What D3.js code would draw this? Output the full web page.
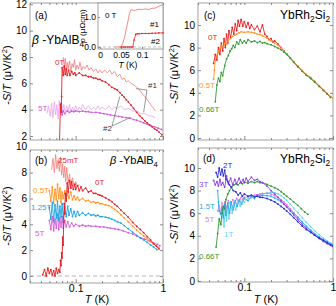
<!DOCTYPE html>
<html>
<head>
<meta charset="utf-8">
<script src="https://cdn.jsdelivr.net/npm/d3@7"></script>
<style>
body { margin: 0; background: #fff; }
svg { font-family: "Liberation Sans", Arial, sans-serif; }
</style>
</head>
<body>
<svg id="chart" width="336" height="306"></svg>
<script>
// ---- data: [T (K), -S/T (uV/K^2)] ----
// (a) beta-YbAlB4, two samples
var a0T_1 = [[0.072,8.0],[0.074,7.2],[0.076,7.9],[0.078,7.0],[0.080,7.6],[0.082,7.1],[0.085,7.7],[0.088,6.9],[0.091,7.5],[0.094,7.2],[0.097,7.8],[0.10,7.0],[0.104,7.4],[0.108,7.1],[0.112,7.6],[0.117,7.0],[0.122,7.3],[0.128,7.1],[0.135,7.4],[0.142,7.0],[0.15,7.2],[0.16,6.9],[0.17,7.1],[0.18,6.8],[0.19,7.0],[0.20,6.8],[0.215,7.0],[0.23,6.8],[0.245,7.0],[0.26,6.7],[0.28,6.9],[0.30,6.5],[0.32,6.7],[0.34,6.3],[0.36,6.4],[0.38,6.1],[0.40,6.2],[0.43,6.0],[0.46,5.9],[0.50,5.7],[0.54,5.5],[0.58,5.2],[0.62,5.0],[0.67,4.7],[0.72,4.4],[0.78,4.1],[0.82,3.9]];
var a0T_2 = [[0.062,0.5],[0.065,1.0],[0.067,4.4],[0.068,3.8],[0.069,5.0],[0.070,7.2],[0.072,6.6],[0.074,7.3],[0.076,6.7],[0.078,7.1],[0.080,6.6],[0.083,7.0],[0.086,6.6],[0.090,6.9],[0.094,6.7],[0.098,6.8],[0.10,6.6],[0.11,6.8],[0.12,6.6],[0.13,6.6],[0.14,6.5],[0.15,6.5],[0.16,6.4],[0.17,6.4],[0.18,6.3],[0.19,6.3],[0.20,6.2],[0.22,6.1],[0.24,5.9],[0.26,5.7],[0.28,5.6],[0.30,5.5],[0.32,5.3],[0.34,5.1],[0.36,4.95],[0.38,4.75],[0.40,4.6],[0.43,4.35],[0.46,4.1],[0.50,3.8],[0.54,3.55],[0.58,3.35],[0.62,3.15],[0.66,3.0],[0.70,2.85],[0.75,2.7],[0.80,2.55],[0.85,2.45],[0.90,2.3],[0.97,2.1]];
var a5T_1 = [[0.047,3.7],[0.049,4.3],[0.051,3.5],[0.053,4.5],[0.055,3.4],[0.057,4.6],[0.059,3.6],[0.061,4.4],[0.063,3.3],[0.065,4.7],[0.067,3.6],[0.069,4.5],[0.071,3.7],[0.073,4.4],[0.076,3.8],[0.079,4.3],[0.082,3.9],[0.085,4.4],[0.088,3.8],[0.092,4.2],[0.096,3.9],[0.10,4.3],[0.105,3.9],[0.11,4.2],[0.115,4.0],[0.12,4.4],[0.13,4.0],[0.14,4.3],[0.15,4.0],[0.16,4.2],[0.17,4.0],[0.18,4.3],[0.19,4.0],[0.20,4.2],[0.22,4.0],[0.24,4.3],[0.26,4.0],[0.28,4.2],[0.30,4.1],[0.33,4.3],[0.36,4.0],[0.40,4.1],[0.45,3.9],[0.50,3.9],[0.56,3.7],[0.62,3.7],[0.68,3.55],[0.75,3.5],[0.81,3.4]];
var a5T_2 = [[0.068,4.5],[0.070,3.6],[0.072,3.9],[0.075,3.7],[0.080,3.9],[0.085,3.8],[0.090,3.9],[0.095,3.85],[0.10,3.9],[0.11,3.85],[0.12,3.9],[0.13,3.85],[0.14,3.85],[0.15,3.8],[0.17,3.8],[0.19,3.75],[0.21,3.7],[0.23,3.65],[0.25,3.6],[0.28,3.55],[0.31,3.5],[0.34,3.45],[0.38,3.4],[0.42,3.35],[0.46,3.25],[0.50,3.2],[0.55,3.1],[0.60,3.0],[0.66,2.9],[0.72,2.8],[0.80,2.7],[0.88,2.6],[0.96,2.5]];
// (a) inset: resistivity [T (K), rho (uOhm cm)]
var rho_1 = [[0.035,0],[0.042,0],[0.050,0],[0.054,0.12],[0.058,0.3],[0.062,0.57],[0.066,0.83],[0.070,1.12],[0.074,1.25],[0.080,1.22],[0.085,1.23],[0.093,1.26],[0.101,1.25],[0.108,1.27],[0.116,1.25],[0.124,1.29],[0.132,1.3],[0.138,1.34],[0.143,1.38],[0.150,1.4]];
var rho_2 = [[0.050,0],[0.055,0],[0.060,0],[0.065,0],[0.070,0],[0.075,0],[0.078,0],[0.081,0.23],[0.085,0.42],[0.089,0.44],[0.093,0.44],[0.10,0.45],[0.108,0.45],[0.116,0.45],[0.124,0.46],[0.132,0.46],[0.14,0.47],[0.15,0.47]];
// (b) beta-YbAlB4
var b25mT = [[0.053,8.2],[0.055,9.1],[0.057,8.0],[0.059,9.4],[0.061,8.3],[0.063,9.0],[0.065,8.1],[0.067,9.2],[0.069,7.8],[0.071,8.7],[0.073,7.6],[0.075,8.5],[0.077,7.3],[0.079,8.4],[0.082,7.2],[0.085,7.9],[0.088,7.0],[0.092,7.6],[0.096,6.9],[0.10,7.3],[0.105,6.9],[0.11,7.1]];
var b0T = [[0.042,0.1],[0.044,0.5],[0.046,0.0],[0.048,0.6],[0.050,0.2],[0.052,0.5],[0.054,0.1],[0.056,0.4],[0.058,0.0],[0.060,0.6],[0.062,0.2],[0.064,0.5],[0.066,0.3],[0.067,1.2],[0.068,0.8],[0.069,1.8],[0.070,1.4],[0.071,3.0],[0.072,2.4],[0.073,4.2],[0.074,5.6],[0.075,4.8],[0.076,6.4],[0.078,5.8],[0.080,7.2],[0.082,6.5],[0.085,7.4],[0.088,6.8],[0.090,7.3],[0.094,6.7],[0.098,7.1],[0.10,6.7],[0.105,7.0],[0.11,6.6],[0.115,6.9],[0.12,6.6],[0.13,6.8],[0.14,6.5],[0.15,6.6],[0.16,6.4],[0.17,6.4],[0.18,6.3],[0.19,6.25],[0.20,6.2],[0.22,6.05],[0.24,5.9],[0.26,5.75],[0.28,5.55],[0.30,5.4],[0.33,5.1],[0.36,4.85],[0.40,4.55],[0.45,4.15],[0.50,3.85],[0.55,3.6],[0.60,3.35],[0.66,3.05],[0.72,2.8],[0.78,2.5],[0.84,2.3],[0.90,2.1]];
var b05T = [[0.050,6.6],[0.052,5.8],[0.054,6.9],[0.056,5.6],[0.058,6.7],[0.060,5.9],[0.062,7.1],[0.064,6.0],[0.066,6.8],[0.068,5.7],[0.070,6.5],[0.072,6.0],[0.075,6.6],[0.078,5.9],[0.081,6.4],[0.084,6.0],[0.088,6.5],[0.092,5.9],[0.096,6.2],[0.10,5.9],[0.105,6.1],[0.11,5.85],[0.12,6.0],[0.13,5.8],[0.14,5.85],[0.15,5.7],[0.16,5.75],[0.17,5.65],[0.18,5.7],[0.19,5.6],[0.20,5.6],[0.22,5.5],[0.24,5.45],[0.26,5.3],[0.28,5.15],[0.30,5.0],[0.33,4.75],[0.36,4.5],[0.40,4.2],[0.45,3.85],[0.50,3.55],[0.55,3.3],[0.60,3.1],[0.66,2.9],[0.72,2.65],[0.78,2.5],[0.84,2.35],[0.90,2.2]];
var b125T = [[0.050,5.3],[0.052,4.4],[0.054,5.7],[0.056,4.2],[0.058,5.5],[0.060,4.5],[0.062,5.8],[0.064,4.3],[0.066,5.4],[0.068,4.6],[0.070,5.6],[0.072,4.4],[0.075,5.3],[0.078,4.6],[0.081,5.4],[0.084,4.7],[0.088,5.2],[0.092,4.6],[0.096,5.0],[0.10,4.6],[0.105,5.0],[0.11,4.7],[0.12,4.9],[0.13,4.7],[0.14,4.85],[0.15,4.7],[0.16,4.75],[0.17,4.65],[0.18,4.7],[0.19,4.6],[0.20,4.6],[0.22,4.55],[0.24,4.5],[0.26,4.4],[0.28,4.3],[0.30,4.2],[0.33,4.1],[0.36,3.9],[0.40,3.65],[0.45,3.4],[0.50,3.15],[0.55,2.95],[0.60,2.8],[0.66,2.6],[0.72,2.4],[0.78,2.25],[0.85,2.05]];
var b5T = [[0.050,4.3],[0.052,3.6],[0.054,4.6],[0.056,3.5],[0.058,4.4],[0.060,3.7],[0.062,4.8],[0.064,3.6],[0.066,4.5],[0.068,3.8],[0.070,4.6],[0.072,3.7],[0.075,4.3],[0.078,3.8],[0.081,4.2],[0.085,3.8],[0.090,4.1],[0.095,3.85],[0.10,4.0],[0.11,3.85],[0.12,3.95],[0.13,3.85],[0.14,3.9],[0.15,3.85],[0.17,3.85],[0.19,3.8],[0.21,3.8],[0.23,3.75],[0.25,3.7],[0.28,3.65],[0.31,3.6],[0.35,3.5],[0.40,3.35],[0.45,3.25],[0.50,3.1],[0.56,2.95],[0.62,2.85],[0.70,2.7],[0.78,2.55],[0.86,2.45],[0.92,2.35]];
// (c) YbRh2Si2
var c0T = [[0.045,6.6],[0.047,7.4],[0.049,6.9],[0.051,8.0],[0.053,7.4],[0.055,8.4],[0.057,7.7],[0.059,8.8],[0.061,8.0],[0.063,9.2],[0.065,8.4],[0.067,9.5],[0.070,8.9],[0.073,9.8],[0.076,9.2],[0.079,10.1],[0.082,9.5],[0.085,10.4],[0.088,9.9],[0.092,10.5],[0.096,9.9],[0.10,10.3],[0.105,9.8],[0.11,10.2],[0.115,9.7],[0.12,10.0],[0.13,9.6],[0.14,9.9],[0.15,9.4],[0.16,10.0],[0.17,9.2],[0.18,9.0],[0.19,8.7],[0.20,8.8],[0.21,8.5],[0.22,8.6],[0.24,8.3],[0.26,8.0],[0.28,7.7],[0.30,7.45],[0.33,7.1],[0.36,6.75],[0.40,6.35],[0.45,5.95],[0.50,5.6],[0.56,5.35],[0.62,5.0],[0.70,4.6],[0.78,4.25],[0.86,3.9],[0.94,3.6]];
var c05T = [[0.045,5.2],[0.046,6.0],[0.047,6.9],[0.049,7.3],[0.051,7.6],[0.053,7.9],[0.055,8.2],[0.058,8.0],[0.060,8.4],[0.063,8.3],[0.066,8.7],[0.070,8.8],[0.074,9.0],[0.078,9.1],[0.082,9.2],[0.087,9.3],[0.092,9.4],[0.10,9.35],[0.11,9.4],[0.12,9.35],[0.13,9.3],[0.14,9.2],[0.15,9.15],[0.16,9.05],[0.18,8.85],[0.20,8.6],[0.22,8.4],[0.24,8.2],[0.26,7.95],[0.28,7.7],[0.30,7.45],[0.33,7.1],[0.36,6.75],[0.40,6.35],[0.45,5.95],[0.50,5.6],[0.56,5.3],[0.62,5.0],[0.70,4.6],[0.78,4.25],[0.86,3.95],[0.94,3.65],[1.0,3.5]];
var c066T = [[0.047,3.2],[0.049,4.7],[0.051,5.3],[0.053,5.0],[0.055,5.8],[0.057,5.5],[0.060,6.4],[0.063,7.0],[0.066,7.3],[0.069,7.7],[0.072,7.9],[0.075,8.2],[0.078,8.0],[0.082,8.5],[0.086,8.3],[0.090,8.7],[0.095,8.4],[0.10,8.6],[0.105,8.4],[0.11,8.7],[0.12,8.5],[0.13,8.6],[0.14,8.45],[0.15,8.55],[0.16,8.4],[0.17,8.45],[0.18,8.35],[0.20,8.25],[0.22,8.1],[0.24,7.95],[0.26,7.8],[0.28,7.6],[0.30,7.4],[0.33,7.05],[0.36,6.7],[0.40,6.3],[0.45,5.9],[0.50,5.55],[0.56,5.25],[0.62,4.95],[0.70,4.55],[0.78,4.2],[0.86,3.9],[0.94,3.6]];
// (d) YbRh2Si2
var d066T = [[0.048,3.0],[0.050,4.2],[0.052,5.5],[0.054,5.0],[0.056,6.0],[0.058,6.6],[0.060,6.4],[0.062,7.2],[0.065,7.7],[0.068,8.0],[0.072,8.3],[0.076,8.5],[0.080,8.6],[0.085,8.5],[0.090,8.7],[0.095,8.6],[0.10,8.75],[0.11,8.65],[0.12,8.8],[0.13,8.7],[0.14,8.8],[0.15,8.7],[0.16,8.7],[0.18,8.55],[0.20,8.4],[0.22,8.25],[0.24,8.1],[0.26,7.9],[0.28,7.7],[0.30,7.5],[0.33,7.25],[0.36,7.0],[0.40,6.7],[0.44,6.4],[0.48,6.1],[0.52,5.9]];
var d1T = [[0.055,5.0],[0.057,6.3],[0.059,4.8],[0.061,6.6],[0.063,5.3],[0.065,6.8],[0.067,5.5],[0.070,7.0],[0.073,6.0],[0.076,6.9],[0.080,6.3],[0.085,7.1],[0.090,6.6],[0.095,7.2],[0.10,7.0],[0.11,7.3],[0.12,7.35],[0.13,7.5],[0.14,7.55],[0.15,7.6],[0.16,7.7],[0.18,7.8],[0.20,7.85],[0.22,7.8],[0.24,7.7],[0.26,7.55],[0.28,7.35],[0.30,7.15],[0.33,6.8],[0.36,6.45],[0.40,6.05],[0.45,5.6],[0.50,5.2],[0.56,4.8],[0.62,4.45],[0.70,4.1],[0.78,3.8],[0.86,3.55],[0.94,3.35],[1.0,3.25]];
var d15T = [[0.050,8.0],[0.051,7.0],[0.052,6.2],[0.054,5.9],[0.056,6.5],[0.058,5.6],[0.060,6.8],[0.062,5.8],[0.065,6.9],[0.068,6.0],[0.071,7.0],[0.075,6.3],[0.079,7.1],[0.083,6.6],[0.088,7.2],[0.093,6.8],[0.10,7.3],[0.11,7.1],[0.12,7.5],[0.13,7.3],[0.14,7.6],[0.15,7.5],[0.16,7.6],[0.18,7.55],[0.20,7.5],[0.22,7.35],[0.24,7.2],[0.26,7.0],[0.28,6.8],[0.30,6.6],[0.33,6.3],[0.36,6.0],[0.40,5.65],[0.45,5.2],[0.50,4.85],[0.56,4.5],[0.62,4.2],[0.70,3.9],[0.78,3.65],[0.86,3.45],[0.94,3.3],[1.0,3.2]];
var d2T = [[0.048,9.6],[0.050,9.2],[0.052,10.0],[0.054,9.4],[0.056,9.9],[0.058,9.3],[0.060,9.8],[0.062,9.0],[0.065,8.8],[0.068,8.5],[0.071,8.3],[0.075,8.0],[0.080,7.9],[0.085,7.6],[0.090,7.8],[0.095,7.5],[0.10,7.7],[0.11,7.5],[0.12,7.6],[0.13,7.45],[0.14,7.5],[0.15,7.4],[0.16,7.4],[0.18,7.3],[0.20,7.15],[0.22,7.0],[0.24,6.8],[0.26,6.6],[0.28,6.4],[0.30,6.2],[0.33,5.9],[0.36,5.6],[0.40,5.25],[0.45,4.85],[0.50,4.55],[0.56,4.3],[0.62,4.05],[0.70,3.8],[0.78,3.6],[0.86,3.4],[0.94,3.2],[1.0,3.1]];
var d3T = [[0.045,8.9],[0.047,8.5],[0.049,8.8],[0.051,8.4],[0.053,9.0],[0.055,8.5],[0.057,8.7],[0.060,8.3],[0.063,9.3],[0.066,8.6],[0.070,9.1],[0.074,8.5],[0.078,9.0],[0.082,8.6],[0.087,9.1],[0.092,8.7],[0.097,9.0],[0.10,8.7],[0.105,9.1],[0.11,8.8],[0.12,9.2],[0.13,8.9],[0.14,9.0],[0.15,8.8],[0.16,8.7],[0.18,8.4],[0.20,8.0],[0.22,7.7],[0.24,7.4],[0.26,7.1],[0.28,6.8],[0.30,6.55],[0.33,6.2],[0.36,5.85],[0.40,5.45],[0.45,5.0],[0.50,4.65],[0.56,4.35],[0.62,4.05],[0.70,3.75],[0.78,3.5],[0.86,3.3],[0.94,3.15],[1.0,3.05]];
var d5T = [[0.050,6.2],[0.052,6.7],[0.054,6.0],[0.056,6.9],[0.058,6.3],[0.060,7.0],[0.063,6.5],[0.066,7.1],[0.070,6.7],[0.074,7.2],[0.078,6.9],[0.082,7.3],[0.087,7.0],[0.092,7.4],[0.097,7.2],[0.10,7.4],[0.11,7.45],[0.12,7.5],[0.13,7.6],[0.14,7.65],[0.15,7.7],[0.16,7.75],[0.18,7.75],[0.20,7.7],[0.22,7.55],[0.24,7.4],[0.26,7.2],[0.28,7.0],[0.30,6.75],[0.33,6.4],[0.36,6.05],[0.40,5.65],[0.45,5.2],[0.50,4.8],[0.56,4.45],[0.62,4.1],[0.70,3.8],[0.78,3.55],[0.86,3.35],[0.94,3.2],[1.0,3.1]];

// tick labels
var xMajor = [0.1, 1];
var xMinor = [0.03,0.04,0.05,0.06,0.07,0.08,0.09,0.2,0.3,0.4,0.5,0.6,0.7,0.8,0.9];
var yTicksA = [2,4,6,8,10,12];
var yTicksB = [0,2,4,6,8,10];
var insetXTicks = [0, 0.05, 0.1];
var insetYTicks = [0, 1];

var RED = "#e41f26", LIGHTRED = "#f27a7a", ORANGE = "#ff9420", GREEN = "#2f9a33",
	BLUE125 = "#1ea4e0", MAGENTA = "#d25bd8", LIGHTMAG = "#e9a2ec",
	BLUE2 = "#2a2ad2", PURPLE = "#8d3fe0", CYAN15 = "#25ade8", PINK5 = "#e37ce3", CYAN1 = "#66d4ee";
var FRAME = "#8a8a8a";

var svg = d3.select("#chart");

function panel(p) {
	var x = d3.scaleLog().domain([0.03, 1]).range([p.left, p.right]);
	var y = d3.scaleLinear().domain(p.ydom).range([p.bottom, p.top]);
	var g = svg.append("g");
	var cid = "clip-" + p.name;
	svg.append("clipPath").attr("id", cid).append("rect")
		.attr("x", p.left).attr("y", p.top)
		.attr("width", p.right - p.left).attr("height", p.bottom - p.top);

	// left axis with inward ticks
	var ya = g.append("g").attr("transform", "translate(" + p.left + ",0)")
		.call(d3.axisLeft(y).tickValues(p.yticks).tickSize(-3).tickPadding(3));
	ya.select(".domain").remove();
	ya.attr("font-size", 10).attr("font-family", null);
	ya.selectAll("line").attr("stroke", FRAME);
	ya.selectAll(".tick").filter(function(d) { return y(d) < p.top; }).select("line").remove();
	// right mirror
	var yr = g.append("g").attr("transform", "translate(" + p.right + ",0)")
		.call(d3.axisRight(y).tickValues(p.yticks.filter(function(d) { return y(d) >= p.top; })).tickSize(-3).tickFormat(""));
	yr.select(".domain").remove();
	yr.selectAll("line").attr("stroke", FRAME);

	// bottom axis
	var xa = g.append("g").attr("transform", "translate(0," + p.bottom + ")")
		.call(d3.axisBottom(x).tickValues(xMajor).tickSize(-4).tickPadding(2)
			.tickFormat(p.xlabels ? function(d) { return d === 1 ? "1" : "0.1"; } : ""));
	xa.select(".domain").remove();
	xa.attr("font-size", 10.5).attr("font-family", null);
	xa.selectAll("line").attr("stroke", FRAME);
	var xm = g.append("g").attr("transform", "translate(0," + p.bottom + ")")
		.call(d3.axisBottom(x).tickValues(xMinor).tickSize(-2).tickFormat(""));
	xm.select(".domain").remove();
	xm.selectAll("line").attr("stroke", FRAME);
	var xt = g.append("g").attr("transform", "translate(0," + p.top + ")")
		.call(d3.axisTop(x).tickValues(xMinor.concat(xMajor)).tickSize(-2).tickFormat(""));
	xt.select(".domain").remove();
	xt.selectAll("line").attr("stroke", FRAME);

	g.append("rect")
		.attr("x", p.left).attr("y", p.top)
		.attr("width", p.right - p.left).attr("height", p.bottom - p.top)
		.attr("fill", "none").attr("stroke", FRAME).attr("stroke-width", 0.8);

	// y label
	var yl = g.append("text")
		.attr("transform", "translate(" + p.ylabX + "," + p.ylabY + ") rotate(-90)")
		.attr("text-anchor", "middle").attr("font-size", 11);
	yl.append("tspan").text("-");
	yl.append("tspan").attr("font-style", "italic").text("S");
	yl.append("tspan").text("/");
	yl.append("tspan").attr("font-style", "italic").text("T");
	yl.append("tspan").text(" (\u03bcV/K");
	yl.append("tspan").attr("font-size", 7.5).attr("dy", -4).text("2");
	yl.append("tspan").attr("dy", 4).text(")");

	if (p.xlabels) {
		var xl = g.append("text").attr("x", p.xlabX).attr("y", 303)
			.attr("text-anchor", "middle").attr("font-size", 11);
		xl.append("tspan").attr("font-style", "italic").text("T");
		xl.append("tspan").text(" (K)");
	}
	return { x: x, y: y, g: g, clip: "url(#" + cid + ")" };
}

function curve(P, data, color, dots, w) {
	var lineGen = d3.line()
		.x(function(d) { return P.x(d[0]); })
		.y(function(d) { return P.y(d[1]); });
	var cg = P.g.append("g").attr("clip-path", P.clip);
	cg.append("path").attr("d", lineGen(data))
		.attr("fill", "none").attr("stroke", color).attr("stroke-width", w || 0.9)
		.attr("stroke-linejoin", "round");
	if (dots) {
		cg.selectAll("circle").data(data).enter().append("circle")
			.attr("cx", function(d) { return P.x(d[0]); })
			.attr("cy", function(d) { return P.y(d[1]); })
			.attr("r", 0.9).attr("fill", color);
	}
}

function label(P, x, y, txt, color, size) {
	P.g.append("text").attr("x", x).attr("y", y)
		.attr("font-size", size || 8).attr("fill", color).text(txt);
}

function compound(P, x, y, size, parts) {
	// parts: [text, "sub"|"it"|null]
	var t = P.g.append("text").attr("x", x).attr("y", y).attr("font-size", size);
	var down = false;
	parts.forEach(function(pt) {
		var s = t.append("tspan").text(pt[0]);
		if (pt[1] === "it") s.attr("font-style", "italic");
		if (pt[1] === "sub") { s.attr("font-size", size * 0.7).attr("dy", 3); down = true; }
		else if (down) { s.attr("dy", -3); down = false; }
	});
}

var ybalb = [["\u03b2", "it"], [" -YbAlB", null], ["4", "sub"]];
var ybrh = [["YbRh", null], ["2", "sub"], ["Si", null], ["2", "sub"]];

// ---------- (a) ----------
var A = panel({ name: "a", left: 30, right: 163, top: 3, bottom: 140, ydom: [1.7, 12.1],
	yticks: yTicksA, xlabels: false, ylabX: 11, ylabY: 75 });
curve(A, a0T_1, LIGHTRED, false, 0.8);
curve(A, a5T_1, LIGHTMAG, false, 0.8);
curve(A, a5T_2, MAGENTA, true);
curve(A, a0T_2, RED, true);
label(A, 35, 19, "(a)", "#000", 10);
compound(A, 32, 44, 12, ybalb);
label(A, 55, 65, "0T", RED);
label(A, 38, 111, "5T", MAGENTA);
label(A, 148, 88, "#1", "#333");
label(A, 103, 131, "#2", "#333");
var ptrs = [
	[[147, 90], [0.49, 5.6]],
	[[147, 90], [0.6, 3.8]],
	[[112, 126], [0.32, 5.0]],
	[[112, 126], [0.42, 3.4]]
];
ptrs.forEach(function(pp) {
	A.g.append("line").attr("x1", pp[0][0]).attr("y1", pp[0][1])
		.attr("x2", A.x(pp[1][0])).attr("y2", A.y(pp[1][1]))
		.attr("stroke", "#555").attr("stroke-width", 0.6);
});

// inset
var ins = { left: 98, right: 163, top: 3, bottom: 49 };
var ix = d3.scaleLinear().domain([-0.005, 0.15]).range([ins.left, ins.right]);
var iy = d3.scaleLinear().domain([-0.067, 1.467]).range([ins.bottom, ins.top]);
var ig = svg.append("g");
ig.append("rect").attr("x", ins.left).attr("y", ins.top)
	.attr("width", ins.right - ins.left).attr("height", ins.bottom - ins.top)
	.attr("fill", "#fff").attr("stroke", FRAME).attr("stroke-width", 0.8);
ig.append("line").attr("x1", ins.left).attr("x2", ins.right)
	.attr("y1", iy(0)).attr("y2", iy(0))
	.attr("stroke", "#999").attr("stroke-width", 0.6).attr("stroke-dasharray", "3,2");
var iya = ig.append("g").attr("transform", "translate(" + ins.left + ",0)")
	.call(d3.axisLeft(iy).tickValues(insetYTicks).tickSize(-2).tickPadding(2));
iya.select(".domain").remove();
iya.attr("font-size", 8.5).attr("font-family", null);
iya.selectAll("line").attr("stroke", FRAME);
var ixa = ig.append("g").attr("transform", "translate(0," + ins.bottom + ")")
	.call(d3.axisBottom(ix).tickValues(insetXTicks).tickSize(-2).tickPadding(3)
		.tickFormat(function(d) { return d === 0 ? "0" : d === 0.05 ? "0.05" : "0.1"; }));
ixa.select(".domain").remove();
ixa.attr("font-size", 8.5).attr("font-family", null);
ixa.selectAll("line").attr("stroke", FRAME);
var rhoLine = d3.line().x(function(d) { return ix(d[0]); }).y(function(d) { return iy(d[1]); });
ig.append("path").attr("d", rhoLine(rho_1)).attr("fill", "none").attr("stroke", LIGHTRED).attr("stroke-width", 0.9);
ig.append("path").attr("d", rhoLine(rho_2)).attr("fill", "none").attr("stroke", RED).attr("stroke-width", 0.8);
ig.selectAll("circle").data(rho_2).enter().append("circle")
	.attr("cx", function(d) { return ix(d[0]); }).attr("cy", function(d) { return iy(d[1]); })
	.attr("r", 0.8).attr("fill", RED);
ig.append("text").attr("x", 105).attr("y", 18).attr("font-size", 8).text("0 T");
ig.append("text").attr("x", 150).attr("y", 27).attr("font-size", 8).text("#1");
ig.append("text").attr("x", 151).attr("y", 44).attr("font-size", 8).text("#2");
var rl = ig.append("text").attr("transform", "translate(85,26) rotate(-90)")
	.attr("text-anchor", "middle").attr("font-size", 8);
rl.append("tspan").attr("font-style", "italic").text("\u03c1");
rl.append("tspan").text(" (\u03bc\u03a9cm)");
var itl = ig.append("text").attr("x", 128).attr("y", 68).attr("text-anchor", "middle").attr("font-size", 8.5);
itl.append("tspan").attr("font-style", "italic").text("T");
itl.append("tspan").text(" (K)");

// ---------- (b) ----------
var B = panel({ name: "b", left: 30, right: 163, top: 150, bottom: 283, ydom: [-0.54, 9.75],
	yticks: yTicksB, xlabels: true, ylabX: 11, ylabY: 216, xlabX: 97 });
B.g.append("line").attr("x1", 30).attr("x2", 163).attr("y1", B.y(0)).attr("y2", B.y(0))
	.attr("stroke", "#999").attr("stroke-width", 0.7).attr("stroke-dasharray", "4,3");
curve(B, b5T, MAGENTA, true);
curve(B, b125T, BLUE125, true);
curve(B, b05T, ORANGE, true);
curve(B, b25mT, LIGHTRED, false, 0.8);
curve(B, b0T, RED, true);
label(B, 35, 164, "(b)", "#000", 10);
label(B, 58, 163, "25mT", RED);
compound(B, 110, 164, 11, ybalb);
label(B, 95, 185, "0T", RED);
label(B, 33, 193, "0.5T", ORANGE);
label(B, 31, 210, "1.25T", BLUE125);
label(B, 35, 236, "5T", MAGENTA);

// ---------- (c) ----------
var C = panel({ name: "c", left: 198, right: 333, top: 3, bottom: 140, ydom: [-0.18, 11.95],
	yticks: yTicksB, xlabels: false, ylabX: 178, ylabY: 74 });
curve(C, c0T, RED, true);
curve(C, c05T, ORANGE, true);
curve(C, c066T, GREEN, true);
label(C, 204, 19, "(c)", "#000", 10);
compound(C, 280, 19, 12, ybrh);
label(C, 208, 40, "0T", RED);
label(C, 199, 88, "0.5T", ORANGE);
label(C, 199, 112, "0.66T", GREEN);

// ---------- (d) ----------
var D = panel({ name: "d", left: 198, right: 333, top: 148, bottom: 282, ydom: [-0.09, 11.77],
	yticks: yTicksB, xlabels: true, ylabX: 178, ylabY: 214, xlabX: 266 });
curve(D, d1T, CYAN1, true);
curve(D, d5T, PINK5, true);
curve(D, d15T, CYAN15, true);
curve(D, d066T, GREEN, true);
curve(D, d3T, PURPLE, true);
curve(D, d2T, BLUE2, true);
label(D, 203, 162, "(d)", "#000", 10);
compound(D, 280, 163, 12, ybrh);
label(D, 223, 168, "2T", BLUE2);
label(D, 199, 187, "3T", PURPLE);
label(D, 199, 209, "1.5T", CYAN15);
label(D, 205, 222, "5T", PINK5);
label(D, 224, 237, "1T", CYAN1);
label(D, 199, 259, "0.66T", GREEN);
</script>
</body>
</html>
